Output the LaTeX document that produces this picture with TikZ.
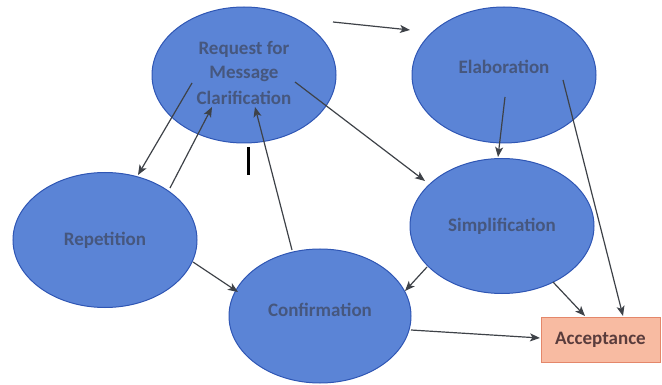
\documentclass[tikz,border=0pt]{standalone}
\usepackage{fontspec}
\setmainfont{Carlito}
\usetikzlibrary{shapes.geometric,arrows.meta}
\definecolor{ellfill}{HTML}{5B84D6}
\definecolor{elldraw}{HTML}{2F56B4}
\definecolor{elltext}{HTML}{46577E}
\definecolor{accfill}{HTML}{F8BBA2}
\definecolor{accdraw}{HTML}{E4876A}
\definecolor{acctext}{HTML}{5A3C3C}
\definecolor{arrcol}{HTML}{3E4248}
\tikzset{
  ell/.style={ellipse, fill=ellfill, draw=elldraw, line width=1pt, inner sep=0pt,
    text=elltext, font=\fontsize{19}{28}\selectfont\bfseries, align=center},
  accbox/.style={rectangle, fill=accfill, draw=accdraw, line width=0.8pt, inner sep=0pt,
    text=acctext, font=\fontsize{19}{24}\selectfont\bfseries},
  arr/.style={draw=arrcol, line width=1.2pt, -{Stealth[length=10pt,width=8pt,inset=2.5pt]}},
}
\begin{document}
\begin{tikzpicture}[x=1pt,y=-1pt]
\useasboundingbox (0,0) rectangle (662,385);
\node[ell, minimum width=184pt, minimum height=136pt] (req) at (244,75) {\raisebox{4pt}{\shortstack{Request for\\[6pt]Message\\[6pt]Clarification}}};
\node[ell, minimum width=184pt, minimum height=136pt] (elab) at (504,75) {\raisebox{16pt}{Elaboration}};
\node[ell, minimum width=184pt, minimum height=135pt] (rep) at (105,240) {Repetition};
\node[ell, minimum width=184pt, minimum height=135pt] (simp) at (502,226) {\raisebox{-6pt}{Simplification}};
\node[ell, minimum width=182pt, minimum height=134pt] (conf) at (320,316) {\raisebox{12pt}{Confirmation}};
\node[accbox, minimum width=119pt, minimum height=45pt] (acc) at (600.5,339.5) {Acceptance};
% connector end points
\coordinate (t1) at (333,22); \coordinate (t2) at (410,30);
\coordinate (rr1) at (192,83); \coordinate (rr2) at (138,175);
\coordinate (pr1) at (170,188); \coordinate (pr2) at (212,107);
\coordinate (cr1) at (292,250); \coordinate (cr2) at (255,107);
\coordinate (rs1) at (295,82); \coordinate (rs2) at (425,181);
\coordinate (es1) at (505,97); \coordinate (es2) at (498,157);
\coordinate (ea1) at (563,80); \coordinate (ea2) at (623,316);
\coordinate (sc1) at (427,267); \coordinate (sc2) at (405,291);
\coordinate (sa1) at (553,282); \coordinate (sa2) at (585,316);
\coordinate (ca1) at (411,330); \coordinate (ca2) at (540,338);
\coordinate (pc1) at (193,262); \coordinate (pc2) at (238,292);
\coordinate (m1) at (248,147); \coordinate (m2) at (248,175);
\draw[arr] (t1) -- (t2);
\draw[arr] (rr1) -- (rr2);
\draw[arr] (pr1) -- (pr2);
\draw[arr] (cr1) -- (cr2);
\draw[arr] (rs1) -- (rs2);
\draw[arr] (es1) -- (es2);
\draw[arr] (ea1) -- (ea2);
\draw[arr] (sc1) -- (sc2);
\draw[arr] (sa1) -- (sa2);
\draw[arr] (ca1) -- (ca2);
\draw[arr] (pc1) -- (pc2);
\draw[black, line width=3pt] (m1) -- (m2);
\end{tikzpicture}
\end{document}
